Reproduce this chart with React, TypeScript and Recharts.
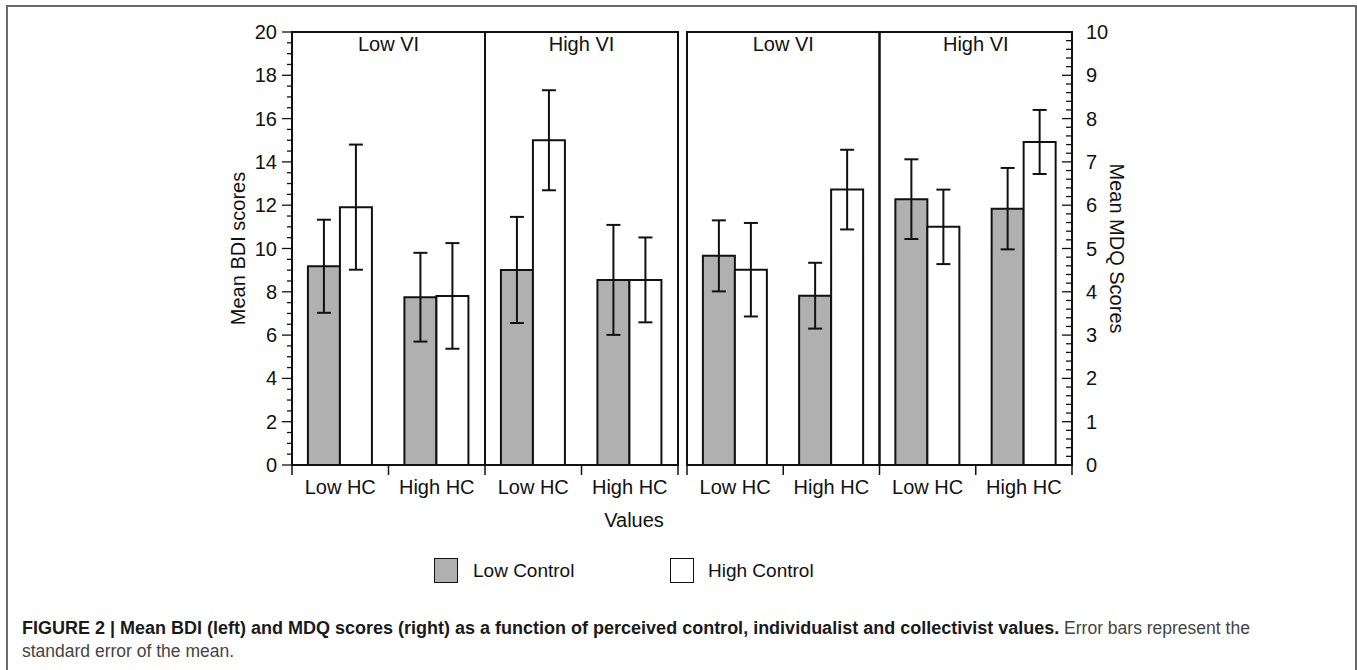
import React from "react";
import {
  BarChart,
  Bar,
  XAxis,
  YAxis,
  ErrorBar,
  ReferenceArea,
} from "recharts";

// categories (unique keys) and their printed labels
const CATS = ["LowVI-LowHC", "LowVI-HighHC", "HighVI-LowHC", "HighVI-HighHC"];
const CAT_LABELS = ["Low HC", "High HC", "Low HC", "High HC"];
const VI_GROUPS = [
  { label: "Low VI", from: "LowVI-LowHC", to: "LowVI-HighHC" },
  { label: "High VI", from: "HighVI-LowHC", to: "HighVI-HighHC" },
];

// Mean BDI (left panel)
const BDI_LOW_CONTROL = [9.18, 7.75, 9.01, 8.55];
const BDI_LOW_CONTROL_SE = [2.15, 2.05, 2.45, 2.54];
const BDI_HIGH_CONTROL = [11.91, 7.81, 15.0, 8.55];
const BDI_HIGH_CONTROL_SE = [2.89, 2.44, 2.31, 1.96];

// Mean MDQ (right panel)
const MDQ_LOW_CONTROL = [4.83, 3.91, 6.14, 5.92];
const MDQ_LOW_CONTROL_SE = [0.82, 0.76, 0.92, 0.94];
const MDQ_HIGH_CONTROL = [4.51, 6.36, 5.5, 7.46];
const MDQ_HIGH_CONTROL_SE = [1.08, 0.92, 0.86, 0.74];

const BDI_MAJOR = [0, 2, 4, 6, 8, 10, 12, 14, 16, 18, 20];
const MDQ_MAJOR = [0, 1, 2, 3, 4, 5, 6, 7, 8, 9, 10];

const GRAY = "#b0b0b0";
const INK = "#111";
const FONT = '"Liberation Sans", Arial, Helvetica, sans-serif';

// minor ticks between the labelled ones
function withMinor(major: number[], perStep: number) {
  const out: number[] = [];
  for (let i = 0; i < major.length - 1; i++) {
    const a = major[i];
    const step = (major[i + 1] - a) / perStep;
    for (let k = 0; k < perStep; k++) out.push(Math.round((a + k * step) * 100) / 100);
  }
  out.push(major[major.length - 1]);
  return out;
}

const BDI_TICKS = withMinor(BDI_MAJOR, 4);
const MDQ_TICKS = withMinor(MDQ_MAJOR, 5);

function buildRows(low: number[], lowSe: number[], high: number[], highSe: number[]) {
  return CATS.map((c, i) => ({
    cat: c,
    label: CAT_LABELS[i],
    low: low[i],
    lowSe: lowSe[i],
    high: high[i],
    highSe: highSe[i],
  }));
}

const bdiRows = buildRows(BDI_LOW_CONTROL, BDI_LOW_CONTROL_SE, BDI_HIGH_CONTROL, BDI_HIGH_CONTROL_SE);
const mdqRows = buildRows(MDQ_LOW_CONTROL, MDQ_LOW_CONTROL_SE, MDQ_HIGH_CONTROL, MDQ_HIGH_CONTROL_SE);

// chart geometry (both panels share it)
const CH_W = 490;
const CH_H = 490;
const PLOT_W = 386;
const HALF_BAND = PLOT_W / CATS.length / 2;

function CatTick(props: any) {
  const { x, y, payload, index } = props;
  const half = payload?.offset ?? HALF_BAND;
  const i = CATS.indexOf(payload?.value);
  return (
    <g>
      <line x1={x - half} y1={y} x2={x - half} y2={y + 10} stroke={INK} strokeWidth={1.5} />
      {index === CATS.length - 1 || i === CATS.length - 1 ? (
        <line x1={x + half} y1={y} x2={x + half} y2={y + 10} stroke={INK} strokeWidth={1.5} />
      ) : null}
      <text x={x} y={y + 29} textAnchor="middle" fontSize={20} fill={INK} fontFamily={FONT}>
        {CAT_LABELS[i] ?? payload?.value}
      </text>
    </g>
  );
}

function LeftTick(props: any) {
  const { x, y, payload } = props;
  const v = Number(payload.value);
  const major = BDI_MAJOR.includes(v);
  return (
    <g>
      <line x1={x} y1={y} x2={x - (major ? 10 : 5)} y2={y} stroke={INK} strokeWidth={1.3} />
      {major && (
        <text x={x - 15} y={y} dy="0.35em" textAnchor="end" fontSize={20} fill={INK} fontFamily={FONT}>
          {v}
        </text>
      )}
    </g>
  );
}

function RightTick(props: any) {
  const { x, y, payload } = props;
  const v = Number(payload.value);
  const major = MDQ_MAJOR.includes(v);
  return (
    <g>
      <line x1={x} y1={y} x2={x - (major ? 10 : 6)} y2={y} stroke={INK} strokeWidth={1.3} />
      {major && (
        <text x={x + 14} y={y} dy="0.35em" textAnchor="start" fontSize={20} fill={INK} fontFamily={FONT}>
          {v}
        </text>
      )}
    </g>
  );
}

function Panel({
  rows,
  side,
}: {
  rows: ReturnType<typeof buildRows>;
  side: "left" | "right";
}) {
  const isLeft = side === "left";
  const max = isLeft ? 20 : 10;
  return (
    <BarChart
      width={CH_W}
      height={CH_H}
      data={rows}
      margin={isLeft ? { top: 12, right: 12, bottom: 0, left: 0 } : { top: 12, right: 0, bottom: 0, left: 7 }}
      barCategoryGap="16.5%"
      barGap={0}
    >
      <XAxis
        dataKey="cat"
        interval={0}
        height={45}
        tickLine={false}
        tickSize={0}
        tickMargin={0}
        axisLine={{ stroke: INK, strokeWidth: 2 }}
        tick={<CatTick />}
      />
      <YAxis
        orientation={side}
        type="number"
        domain={[0, max]}
        ticks={isLeft ? BDI_TICKS : MDQ_TICKS}
        interval={0}
        width={isLeft ? 92 : 98}
        tickLine={false}
        tickSize={0}
        tickMargin={0}
        allowDataOverflow
        axisLine={{ stroke: INK, strokeWidth: 2 }}
        tick={isLeft ? <LeftTick /> : <RightTick />}
        label={
          isLeft
            ? {
                value: "Mean BDI scores",
                angle: -90,
                position: "insideLeft",
                offset: 38,
                style: { textAnchor: "middle", fontSize: 20, fill: INK, fontFamily: FONT },
              }
            : {
                value: "Mean MDQ Scores",
                angle: 90,
                position: "insideRight",
                offset: 53,
                style: { textAnchor: "middle", fontSize: 20, fill: INK, fontFamily: FONT },
              }
        }
      />
      {VI_GROUPS.map((g) => (
        <ReferenceArea
          key={g.label}
          x1={g.from}
          x2={g.to}
          y1={0}
          y2={max}
          fill="none"
          fillOpacity={0}
          stroke={INK}
          strokeWidth={2}
          ifOverflow="visible"
          label={{
            value: g.label,
            position: "insideTop",
            offset: 5,
            fontSize: 20,
            fill: INK,
            fontFamily: FONT,
          }}
        />
      ))}
      <Bar dataKey="low" fill={GRAY} stroke={INK} strokeWidth={2} isAnimationActive={false}>
        <ErrorBar dataKey="lowSe" width={7} stroke={INK} strokeWidth={2} direction="y" />
      </Bar>
      <Bar dataKey="high" fill="#ffffff" stroke={INK} strokeWidth={2} isAnimationActive={false}>
        <ErrorBar dataKey="highSe" width={7} stroke={INK} strokeWidth={2} direction="y" />
      </Bar>
    </BarChart>
  );
}

export default function App() {
  return (
    <div
      style={{
        position: "absolute",
        left: 0,
        top: 0,
        width: 1357,
        height: 670,
        overflow: "hidden",
        background: "#fff",
        fontFamily: FONT,
        color: INK,
      }}
    >
      {/* figure frame */}
      <div
        style={{
          position: "absolute",
          left: 6,
          top: 5,
          width: 1351,
          height: 720,
          border: "2px solid #6a6a6a",
          boxSizing: "border-box",
        }}
      />

      <div style={{ position: "absolute", left: 200, top: 20 }}>
        <Panel rows={bdiRows} side="left" />
      </div>
      <div style={{ position: "absolute", left: 680, top: 20 }}>
        <Panel rows={mdqRows} side="right" />
      </div>

      {/* shared x axis title */}
      <div
        style={{
          position: "absolute",
          left: 534,
          width: 200,
          top: 508,
          textAlign: "center",
          fontSize: 20,
          lineHeight: "24px",
        }}
      >
        Values
      </div>

      {/* legend */}
      <div style={{ position: "absolute", left: 434, top: 558, display: "flex", alignItems: "center" }}>
        <span
          style={{
            width: 24,
            height: 25,
            background: GRAY,
            border: `1.5px solid ${INK}`,
            boxSizing: "border-box",
            display: "inline-block",
          }}
        />
        <span style={{ marginLeft: 15, fontSize: 19 }}>Low Control</span>
      </div>
      <div style={{ position: "absolute", left: 670, top: 558, display: "flex", alignItems: "center" }}>
        <span
          style={{
            width: 24,
            height: 25,
            background: "#fff",
            border: `1.5px solid ${INK}`,
            boxSizing: "border-box",
            display: "inline-block",
          }}
        />
        <span style={{ marginLeft: 14, fontSize: 19 }}>High Control</span>
      </div>

      {/* caption */}
      <div
        style={{
          position: "absolute",
          left: 22,
          top: 617,
          width: 1320,
          fontSize: 17.5,
          lineHeight: "23px",
          color: "#444",
          whiteSpace: "nowrap",
        }}
      >
        <b style={{ color: "#1a1a1a", fontSize: 18 }}>
          FIGURE 2 | Mean BDI (left) and MDQ scores (right) as a function of perceived control, individualist and
          collectivist values.
        </b>
        <span> Error bars represent the</span>
        <br />
        <span>standard error of the mean.</span>
      </div>
    </div>
  );
}
